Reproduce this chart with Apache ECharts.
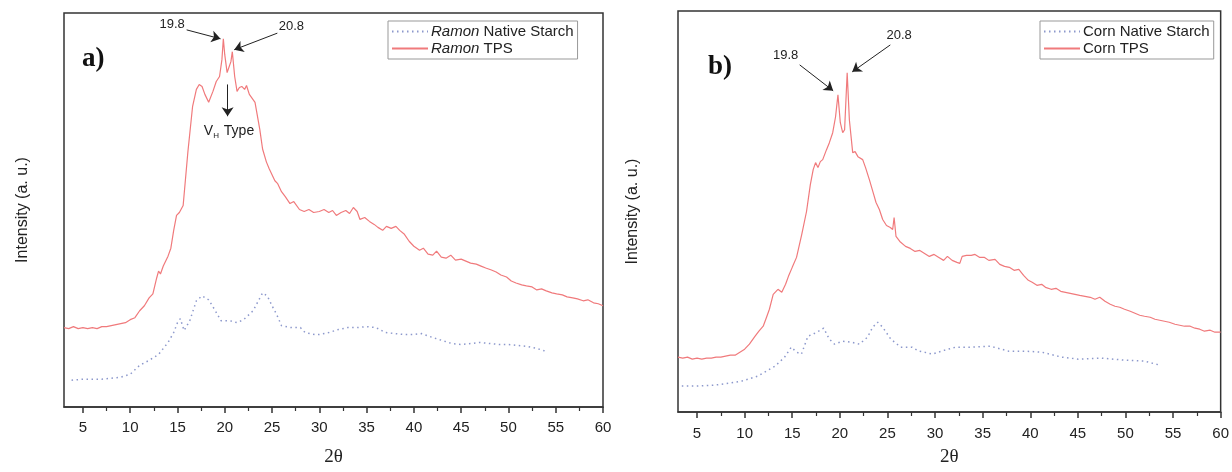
<!DOCTYPE html>
<html>
<head>
<meta charset="utf-8">
<title>XRD Ramon / Corn starch</title>
<script src="https://cdn.jsdelivr.net/npm/echarts@6/dist/echarts.min.js"></script>
<style>
  html, body { margin: 0; padding: 0; background: #fff; }
  #chart { width: 1232px; height: 472px; }
</style>
</head>
<body>
<div id="chart"></div>
<script>
// 2theta ticks
const majorTicks = [5, 10, 15, 20, 25, 30, 35, 40, 45, 50, 55, 60];
const minorTicks = [7.5, 12.5, 17.5, 22.5, 27.5, 32.5, 37.5, 42.5, 47.5, 52.5, 57.5];

// a) Ramon  [2theta, intensity a.u.]
const ramonNative = [
  [3.8, 27], [5, 28], [6, 28], [7, 28], [8, 29], [9, 30], [10, 33], [11, 42], [12, 47], [13, 53],
  [14, 65], [14.6, 75], [15, 85], [15.3, 89], [15.7, 77], [16.3, 87], [17, 107], [17.6, 112], [18.3, 108],
  [19, 97], [19.6, 87], [20.5, 87], [21.3, 85], [22, 88], [23, 97], [24, 115], [24.5, 112], [25, 102],
  [25.5, 93], [26, 82], [27, 80], [28, 80], [28.5, 75], [29.5, 73], [30, 73], [31, 75], [32, 78], [33, 80],
  [34, 80], [35, 81], [36, 80], [37, 75], [38, 74], [39, 73], [40, 73], [40.8, 74], [42, 70], [43, 67],
  [44, 64], [45, 63], [46, 64], [47, 65], [48, 64], [49, 63], [50, 63], [51, 62], [52, 61], [53, 59], [54, 56]
];
const ramonTps = [
  [3, 80], [3.5, 79], [4, 81], [4.5, 79], [5, 80], [5.5, 79], [6, 80], [6.5, 79], [7, 81], [7.5, 81],
  [8, 82], [8.5, 83], [9, 84], [9.5, 85], [10, 88], [10.5, 90], [11, 97], [11.5, 102], [12, 110], [12.4, 114],
  [12.8, 130], [13, 137], [13.2, 134], [13.5, 142], [14, 152], [14.3, 160], [14.6, 178], [14.9, 193],
  [15.2, 196], [15.6, 203], [16.1, 257], [16.6, 303], [17, 320], [17.3, 325], [17.6, 323], [17.9, 315],
  [18.3, 307], [18.75, 318], [19.1, 328], [19.45, 333], [19.7, 350], [19.85, 371], [20, 355], [20.25, 337],
  [20.45, 335], [20.65, 348], [20.8, 358], [21.05, 333], [21.3, 318], [21.55, 322], [21.8, 323], [22.1, 320],
  [22.3, 324], [22.6, 315], [23.2, 307], [23.7, 280], [24, 260], [24.4, 247], [24.7, 240], [25, 234],
  [25.3, 228], [25.6, 225], [26, 217], [26.4, 212], [26.9, 205], [27.3, 207], [27.9, 199], [28.4, 197],
  [28.9, 199], [29.4, 196], [30, 197], [30.5, 199], [31, 196], [31.4, 198], [31.8, 193], [32.3, 196],
  [32.8, 198], [33.2, 195], [33.6, 201], [34, 197], [34.3, 189], [34.8, 191], [35.3, 187], [35.8, 184],
  [36.2, 181], [36.7, 178], [37.1, 182], [37.6, 180], [38.1, 182], [38.5, 178], [39, 174], [39.5, 167],
  [40, 162], [40.6, 158], [41, 160], [41.5, 154], [42, 153], [42.4, 157], [42.9, 151], [43.4, 150],
  [43.9, 153], [44.4, 148], [45, 149], [45.5, 147], [46, 145], [46.6, 144], [47.1, 142], [47.6, 140],
  [48.2, 138], [48.7, 136], [49.2, 133], [49.8, 131], [50.3, 127], [50.8, 125], [51.4, 123], [51.9, 122],
  [52.5, 121], [53, 118], [53.5, 119], [54, 117], [54.6, 115], [55.1, 114], [55.7, 113], [56.2, 111],
  [56.8, 110], [57.3, 109], [57.9, 107], [58.4, 108], [59, 105], [59.5, 104], [60, 102]
];

// b) Corn
const cornNative = [
  [3.4, 26], [5, 26], [6.9, 27], [8.5, 29], [9.7, 31], [11.4, 36], [12.3, 41], [13.2, 46], [14.2, 55],
  [14.9, 65], [15.45, 60], [15.96, 58], [16.65, 76], [17.17, 78], [17.77, 81], [18.3, 84], [18.9, 73],
  [19.44, 68], [20.3, 71], [21.2, 70], [22.06, 68], [22.9, 75], [23.45, 85], [23.97, 90], [24.5, 85],
  [25.36, 73], [26.4, 65], [27.6, 65], [28.3, 61], [28.85, 60], [29.7, 58], [31, 62], [32.16, 65],
  [33.9, 65], [35.8, 66], [37.74, 61], [39.5, 61], [41.2, 60], [43.3, 55], [45.05, 53], [47.5, 54],
  [49.9, 52], [52, 51], [53.6, 47]
];
const cornTps = [
  [3, 55], [3.5, 54], [4, 55], [4.5, 53], [5, 54], [5.5, 53], [6, 54], [6.5, 54], [7, 55], [7.5, 55],
  [8, 56], [8.5, 57], [9, 57], [9.5, 60], [10, 63], [10.5, 68], [11.1, 76], [11.5, 81], [11.95, 86],
  [12.3, 95], [12.6, 103], [13, 118], [13.5, 123], [13.9, 120], [14.3, 128], [14.6, 136], [15, 145],
  [15.45, 155], [16, 178], [16.5, 201], [16.9, 228], [17.2, 243], [17.45, 250], [17.7, 245], [17.95, 251],
  [18.2, 253], [18.6, 263], [18.9, 270], [19.25, 280], [19.55, 296], [19.8, 318], [20.05, 290], [20.3, 280],
  [20.5, 283], [20.77, 340], [21, 293], [21.35, 260], [21.6, 261], [21.9, 256], [22.4, 253], [22.7, 245],
  [23.1, 233], [23.5, 220], [23.8, 210], [24.15, 203], [24.5, 193], [24.9, 187], [25.3, 185], [25.55, 183],
  [25.7, 195], [25.9, 176], [26.3, 171], [26.9, 166], [27.4, 164], [27.9, 161], [28.4, 162], [28.9, 159],
  [29.4, 156], [29.9, 158], [30.4, 155], [30.9, 152], [31.3, 156], [31.8, 152], [32.3, 150], [32.6, 149],
  [32.85, 156], [33.3, 157], [33.8, 157], [34.2, 158], [34.7, 155], [35.2, 155], [35.65, 152], [36.3, 153],
  [36.8, 148], [37.3, 146], [37.8, 145], [38.3, 142], [38.8, 143], [39.3, 137], [39.8, 132], [40.2, 130],
  [40.7, 127], [41.2, 128], [41.6, 125], [42.2, 123], [42.7, 124], [43.2, 121], [43.7, 120], [44.2, 119],
  [44.7, 118], [45.2, 117], [45.75, 116], [46.3, 115], [46.8, 113], [47.3, 115], [47.85, 111], [48.4, 108],
  [48.9, 106], [49.4, 105], [49.9, 103], [50.5, 101], [51, 99], [51.5, 97], [52, 96], [52.6, 95], [53.1, 93],
  [53.6, 92], [54.1, 91], [54.6, 90], [55.2, 88], [55.7, 87], [56.2, 86], [56.8, 86], [57.3, 84], [57.8, 83],
  [58.3, 81], [58.9, 82], [59.4, 80], [60, 80]
];

const chart = echarts.init(document.getElementById("chart"));

const sans = "Liberation Sans, Arial, sans-serif";
const serif = "Liberation Serif, Times New Roman, serif";
const ink = "#222";
const red = "#f07a7c";
const blue = "#8c98cc";

// arrow + text annotations, in data coords
function arrow(from, to) {
  return [{ coord: from }, { coord: to }];
}
function note(at, text) {
  return { coord: at, name: text, value: text };
}

function xAxes(gridIndex, nameGap, labelMargin) {
  return [
    {
      type: "value",
      gridIndex,
      min: 3,
      max: 60,
      position: "bottom",
      name: "2θ",
      nameLocation: "middle",
      nameGap,
      nameTextStyle: { fontFamily: serif, fontSize: 19, color: ink },
      axisLine: { show: true, onZero: false, lineStyle: { color: "#333", width: 1.5 } },
      axisTick: { show: true, customValues: majorTicks, length: 6, lineStyle: { color: "#333", width: 1.5 } },
      axisLabel: { show: true, customValues: majorTicks, margin: labelMargin, fontFamily: sans, fontSize: 15, color: ink },
      splitLine: { show: false },
    },
    {
      type: "value",
      gridIndex,
      min: 3,
      max: 60,
      position: "bottom",
      offset: 0,
      axisLine: { show: false },
      axisTick: { show: true, customValues: minorTicks, length: 4, lineStyle: { color: "#333", width: 1.2 } },
      axisLabel: { show: false },
      splitLine: { show: false },
    },
  ];
}

function yAxis(gridIndex, max, nameGap) {
  return {
    type: "value",
    gridIndex,
    min: 0,
    max,
    name: "Intensity (a. u.)",
    nameLocation: "middle",
    nameGap,
    nameTextStyle: { fontFamily: sans, fontSize: 16, color: ink },
    axisLine: { show: false },
    axisTick: { show: false },
    axisLabel: { show: false },
    splitLine: { show: false },
  };
}

const legendBase = {
  orient: "vertical",
  padding: [3, 4, 3, 3],
  itemGap: 2,
  itemWidth: 36,
  itemHeight: 14,
  borderColor: "#999",
  borderWidth: 1,
  backgroundColor: "#fff",
  itemStyle: { opacity: 0 },
  textStyle: {
    fontFamily: sans,
    fontSize: 15,
    color: ink,
    padding: [0, 0, 0, -2],
    rich: { i: { fontFamily: sans, fontSize: 15, fontStyle: "italic", color: ink } },
  },
};

const markStyle = {
  silent: true,
  symbol: ["none", "arrow"],
  symbolSize: 9,
  lineStyle: { color: ink, width: 1, type: "solid" },
  label: { show: false },
  animation: false,
};
const noteStyle = {
  silent: true,
  symbol: "circle",
  symbolSize: 1,
  itemStyle: { color: "rgba(0,0,0,0)" },
  label: {
    show: true,
    position: "inside",
    formatter: "{b}",
    fontFamily: sans,
    fontSize: 13,
    color: ink,
    rich: {
      v: { fontFamily: sans, fontSize: 14, color: ink },
      s: { fontFamily: sans, fontSize: 8, color: ink, padding: [10, 1, 0, 0] },
    },
  },
};

function line(name, data, xi, yi, dotted, marks) {
  const s = {
    name,
    type: "line",
    data,
    xAxisIndex: xi,
    yAxisIndex: yi,
    showSymbol: false,
    symbol: "none",
    smooth: false,
    lineStyle: dotted
      ? { color: blue, width: 1.5, type: [1.5, 3.5] }
      : { color: red, width: 1.2 },
    itemStyle: { color: dotted ? blue : red },
    z: dotted ? 2 : 3,
  };
  if (marks) {
    s.markLine = Object.assign({ data: marks.arrows }, markStyle);
    s.markPoint = Object.assign({ data: marks.notes }, noteStyle);
  }
  return s;
}

const option = {
  animation: false,
  backgroundColor: "#fff",
  grid: [
    { left: 64, top: 13, width: 539, height: 397, show: true, borderColor: "#333", borderWidth: 1.5 },
    { left: 678, top: 11, width: 545, height: 402, show: true, borderColor: "#333", borderWidth: 1.5 },
  ],
  xAxis: [].concat(xAxes(0, 41, 13), xAxes(1, 36, 14)),
  yAxis: [yAxis(0, 397, 33), yAxis(1, 402, 37)],
  legend: [
    Object.assign({}, legendBase, {
      left: 388,
      top: 21,
      data: ["Ramon Native Starch", "Ramon TPS"],
      formatter: (n) => "{i|Ramon}" + n.slice(5),
    }),
    Object.assign({}, legendBase, {
      left: 1040,
      top: 21,
      data: ["Corn Native Starch", "Corn TPS"],
    }),
  ],
  graphic: [
    { type: "text", left: 82, top: 46, style: { text: "a)", font: "bold 27px " + serif, fill: "#111" } },
    { type: "text", left: 708, top: 54, style: { text: "b)", font: "bold 27px " + serif, fill: "#111" } },
  ],
  series: [
    line("Ramon Native Starch", ramonNative, 0, 0, true),
    line("Ramon TPS", ramonTps, 0, 0, false, {
      arrows: [
        arrow([15.97, 380], [19.55, 371]),
        arrow([25.56, 376.7], [21.0, 360]),
        arrow([20.3, 325], [20.3, 293]),
      ],
      notes: [
        note([14.44, 385], "19.8"),
        note([27.04, 383.3], "20.8"),
        note([20.45, 278], "{v|V}{s|H}{v| Type}"),
      ],
    }),
    line("Corn Native Starch", cornNative, 2, 1, true),
    line("Corn TPS", cornTps, 2, 1, false, {
      arrows: [
        arrow([15.78, 348], [19.3, 322]),
        arrow([25.3, 368], [21.3, 341]),
      ],
      notes: [
        note([14.3, 357], "19.8"),
        note([26.23, 378], "20.8"),
      ],
    }),
  ],
};

chart.setOption(option);
</script>
</body>
</html>
